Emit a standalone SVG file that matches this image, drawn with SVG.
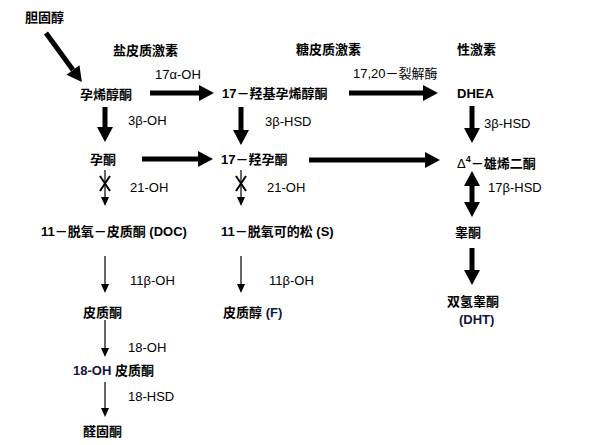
<svg xmlns="http://www.w3.org/2000/svg" width="609" height="445" viewBox="0 0 609 445">
<style>
.t{font-family:"Liberation Sans","Noto Sans CJK SC",sans-serif;font-size:13px;font-weight:bold;fill:#000}
.e{font-family:"Liberation Sans","Noto Sans CJK SC",sans-serif;font-size:13px;fill:#000}
.n{fill:#14143c}
.thick{stroke:#000;stroke-width:5;fill:none}
.thin{stroke:#000;stroke-width:1.2;fill:none}
.x{stroke:#000;stroke-width:2;fill:none}
</style>
<defs>
<marker id="big" markerUnits="userSpaceOnUse" markerWidth="15" markerHeight="16" viewBox="0 -8 15 16" refX="0" refY="0" orient="auto-start-reverse" overflow="visible">
<path d="M0,-8 L15,0 L0,8 Z" fill="#000"/>
</marker>
<marker id="small" markerUnits="userSpaceOnUse" markerWidth="9" markerHeight="8" viewBox="0 -4 9 8" refX="0" refY="0" orient="auto" overflow="visible">
<path d="M0,-4 L9,0 L0,4 Z" fill="#000"/>
</marker>
</defs>
<rect width="609" height="445" fill="#fff"/>

<g id="connectors">
<line class="thick" x1="46" y1="33" x2="73" y2="70" marker-end="url(#big)"/>
<line class="thick" x1="150" y1="93" x2="199" y2="93" marker-end="url(#big)"/>
<line class="thick" x1="349" y1="93" x2="423" y2="93" marker-end="url(#big)"/>
<line class="thick" x1="105" y1="107" x2="105" y2="127" marker-end="url(#big)"/>
<line class="thick" x1="241" y1="107" x2="241" y2="130" marker-end="url(#big)"/>
<line class="thick" x1="472" y1="106" x2="472" y2="128" marker-end="url(#big)"/>
<line class="thick" x1="142" y1="159" x2="198" y2="159" marker-end="url(#big)"/>
<line class="thick" x1="309" y1="160" x2="425" y2="160" marker-end="url(#big)"/>
<line class="thick" x1="472" y1="186" x2="472" y2="202" marker-start="url(#big)" marker-end="url(#big)"/>
<line class="thick" x1="472" y1="248" x2="472" y2="270" marker-end="url(#big)"/>
<line class="thin" x1="105" y1="170" x2="105" y2="197" marker-end="url(#small)"/>
<path class="x" d="M100,176 L110,191 M110,176 L100,191"/>
<line class="thin" x1="241" y1="170" x2="241" y2="197" marker-end="url(#small)"/>
<path class="x" d="M236,176 L246,191 M246,176 L236,191"/>
<line class="thin" x1="105" y1="256" x2="105" y2="284" marker-end="url(#small)"/>
<line class="thin" x1="241" y1="256" x2="241" y2="284" marker-end="url(#small)"/>
<line class="thin" x1="105" y1="320" x2="105" y2="348" marker-end="url(#small)"/>
<line class="thin" x1="105" y1="382" x2="105" y2="408" marker-end="url(#small)"/>
</g>

<g id="labels">
<text class="e" x="155" y="79">17α-OH</text>
<text class="e" x="353" y="78">17,20－裂解酶</text>
<text class="e" x="128" y="124.5">3β-OH</text>
<text class="e" x="265" y="125.5">3β-HSD</text>
<text class="e" x="484" y="127.5">3β-HSD</text>
<text class="e" x="130" y="191.5">21-OH</text>
<text class="e" x="267" y="191.5">21-OH</text>
<text class="e" x="488" y="191.5">17β-HSD</text>
<text class="e" x="130" y="284.5">11β-OH</text>
<text class="e" x="269" y="284.5">11β-OH</text>
<text class="e" x="128" y="351.5">18-OH</text>
<text class="e" x="128" y="400.5">18-HSD</text>
</g>

<g id="headers">
<text class="t" x="113" y="54.5">盐皮质激素</text>
<text class="t" x="296" y="54">糖皮质激素</text>
<text class="t" x="457" y="54">性激素</text>
</g>

<g id="cholesterol"><text class="t" x="25" y="21.5">胆固醇</text></g>
<g id="pregnenolone"><text class="t" x="80" y="98.5">孕烯醇酮</text></g>
<g id="oh-pregnenolone"><text class="t" x="222" y="98">17－羟基孕烯醇酮</text></g>
<g id="dhea"><text class="t" x="457" y="98">DHEA</text></g>
<g id="progesterone"><text class="t" x="90" y="163.5">孕酮</text></g>
<g id="oh-progesterone"><text class="t" x="221" y="163.5">17－羟孕酮</text></g>
<g id="androstenedione"><text class="t" x="457" y="167.5"><tspan font-weight="normal">Δ</tspan><tspan dy="-6" font-size="9">4</tspan><tspan dy="6">－雄烯二酮</tspan></text></g>
<g id="doc"><text class="t" x="41" y="235.5">11－脱氧－皮质酮 (DOC)</text></g>
<g id="deoxycortisol"><text class="t" x="221" y="235.5">11－脱氧可的松 (S)</text></g>
<g id="testosterone"><text class="t" x="455" y="236.5">睾酮</text></g>
<g id="corticosterone"><text class="t" x="83" y="316.5">皮质酮</text></g>
<g id="cortisol"><text class="t" x="223" y="316.5">皮质醇 <tspan class="n">(F)</tspan></text></g>
<g id="dht"><text class="t" x="447" y="305.5">双氢睾酮</text><text class="t n" x="459" y="323.5">(DHT)</text></g>
<g id="oh-corticosterone"><text class="t" x="73" y="374.5"><tspan class="n">18-OH</tspan> 皮质酮</text></g>
<g id="aldosterone"><text class="t" x="83" y="435.5">醛固酮</text></g>
</svg>
